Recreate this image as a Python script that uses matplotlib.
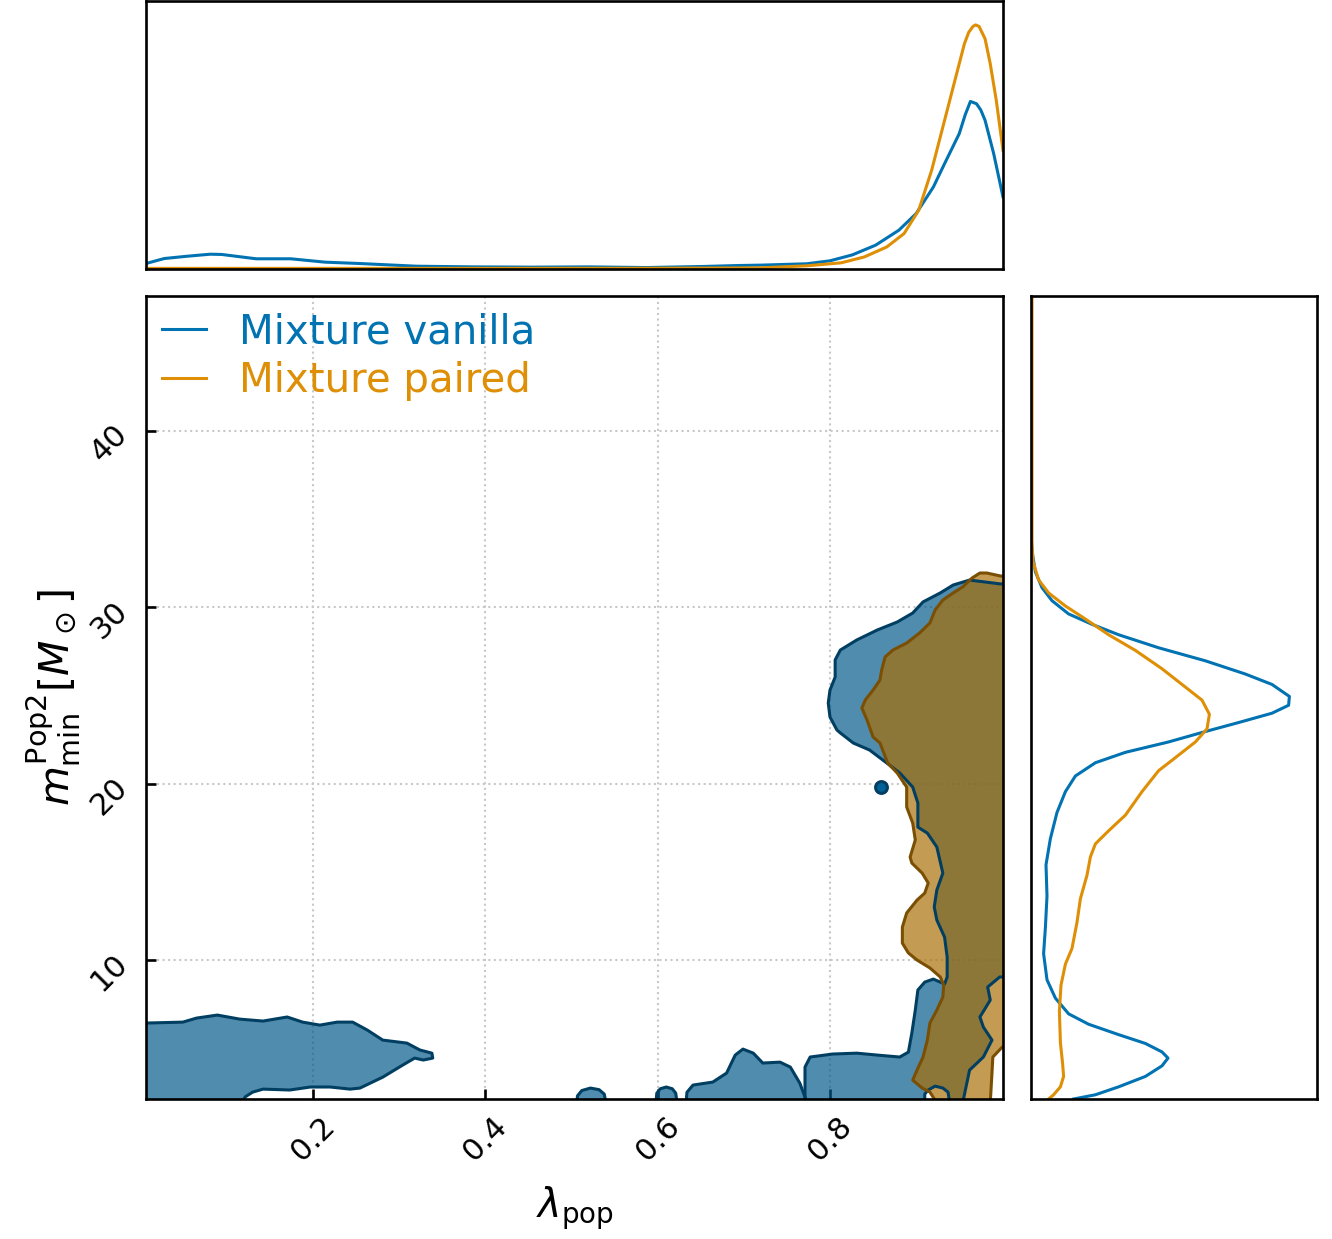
import matplotlib
matplotlib.use("Agg")
import matplotlib.pyplot as plt
import numpy as np

# ---------------------------------------------------------------
# Marginal posterior densities
# ---------------------------------------------------------------
lam_vanilla = [0.0062, 0.0275, 0.0541, 0.0808, 0.0941, 0.134, 0.174, 0.214, 0.254,
               0.320, 0.387, 0.454, 0.520, 0.587, 0.653, 0.693, 0.720, 0.773, 0.800,
               0.826, 0.853, 0.880, 0.900, 0.920, 0.933, 0.950, 0.957, 0.963, 0.970,
               0.975, 0.980, 0.990, 1.0008]
dens_lam_vanilla = [0.37, 0.74, 0.91, 1.06, 1.04, 0.72, 0.72, 0.47, 0.37,
                    0.17, 0.12, 0.10, 0.12, 0.07, 0.15, 0.22, 0.25, 0.35, 0.57,
                    1.01, 1.73, 2.84, 4.07, 6.04, 7.77, 9.99, 11.40, 12.38, 12.21,
                    11.75, 10.98, 8.51, 5.30]

lam_paired = [0.0062, 0.2, 0.4, 0.6, 0.7, 0.720, 0.773, 0.813, 0.840, 0.866, 0.886,
              0.903, 0.918, 0.933, 0.946, 0.956, 0.961, 0.966, 0.969, 0.973, 0.980,
              0.986, 0.993, 1.0008]
dens_lam_paired = [0.01, 0.01, 0.01, 0.02, 0.04, 0.05, 0.20, 0.42, 0.86, 1.60, 2.59,
                   4.32, 7.28, 10.98, 14.19, 16.65, 17.50, 17.94, 18.05, 17.94, 17.02,
                   15.17, 12.46, 8.76]

m_vanilla = [47.66, 33.79, 33.19, 32.01, 31.12, 30.38, 29.63, 29.04, 28.45, 27.71,
             26.97, 26.22, 25.63, 24.95, 24.45, 24.00, 23.47, 22.96, 22.37, 21.78,
             21.19, 20.44, 19.55, 18.37, 16.89, 15.40, 13.63, 11.85, 10.36, 8.88,
             7.84, 6.95, 6.36, 5.77, 5.27, 4.79, 4.44, 4.00, 3.40, 2.81, 2.36, 2.12]
dens_m_vanilla = [0.0, 0.0, 0.0005, 0.0022, 0.0055, 0.0105, 0.0188, 0.0305, 0.0438,
                  0.0638, 0.0872, 0.1072, 0.1205, 0.1292, 0.1288, 0.1205, 0.1038,
                  0.0872, 0.0688, 0.0472, 0.0322, 0.0222, 0.0172, 0.0130, 0.0097,
                  0.0075, 0.0080, 0.0072, 0.0063, 0.0080, 0.0122, 0.0188, 0.0288,
                  0.0438, 0.0572, 0.0655, 0.0685, 0.0655, 0.0572, 0.0438, 0.0322,
                  0.0213]

m_paired = [47.66, 33.79, 32.60, 31.56, 30.82, 30.08, 29.34, 28.45, 27.56, 26.52,
            25.48, 24.74, 23.94, 23.11, 22.37, 21.48, 20.74, 19.55, 18.22, 17.33,
            16.59, 15.85, 14.81, 13.48, 12.14, 10.66, 9.77, 8.58, 7.10, 5.32, 4.13,
            3.40, 2.81, 2.36, 2.12]
dens_m_paired = [0.0005, 0.0005, 0.0010, 0.0038, 0.0088, 0.0172, 0.0272, 0.0388,
                 0.0522, 0.0655, 0.0772, 0.0855, 0.0892, 0.0880, 0.0822, 0.0722,
                 0.0638, 0.0555, 0.0472, 0.0388, 0.0322, 0.0297, 0.0280, 0.0247,
                 0.0230, 0.0205, 0.0172, 0.0150, 0.0142, 0.0147, 0.0158, 0.0163,
                 0.0147, 0.0113, 0.0088]

# ---------------------------------------------------------------
# 2D credible-region outlines (lambda_pop, m_min^Pop2)
# ---------------------------------------------------------------
vanilla_main_lam = [1.01, 0.998, 0.962, 0.943, 0.928, 0.908, 0.896, 0.878, 0.855, 0.831,
                    0.812, 0.806, 0.806, 0.800, 0.798, 0.800, 0.808, 0.812, 0.827, 0.846,
                    0.866, 0.881, 0.896, 0.902, 0.902, 0.913, 0.924, 0.931, 0.924, 0.921,
                    0.924, 0.933, 0.936, 0.936, 0.933, 0.920, 0.910, 0.902, 0.899, 0.895,
                    0.891, 0.881, 0.855, 0.831, 0.803, 0.777, 0.771, 0.771, 0.910, 0.910,
                    0.914, 0.922, 0.931, 0.937, 0.939, 0.954, 0.962, 0.978, 0.988, 0.978,
                    0.974, 0.986, 0.983, 0.997, 1.01]
vanilla_main_m = [31.33, 31.33, 31.55, 31.27, 30.82, 30.31, 29.68, 29.17, 28.72, 28.15,
                  27.58, 27.02, 26.05, 25.31, 24.58, 23.78, 23.05, 22.88, 22.31, 21.91,
                  21.17, 20.61, 19.81, 18.91, 17.54, 17.20, 16.41, 14.93, 13.97, 13.01,
                  12.27, 11.30, 10.17, 9.04, 8.64, 8.92, 8.75, 8.30, 7.16, 5.86,
                  4.78, 4.50, 4.61, 4.72, 4.67, 4.50, 3.93, 1.90, 1.90, 2.40,
                  2.63, 2.85, 2.74, 2.51, 1.90, 1.90, 3.76, 4.50, 5.46, 6.20,
                  6.77, 7.73, 8.47, 9.04, 9.04]

vanilla_left_lam = [-0.01, 0.0085, 0.049, 0.065, 0.089, 0.115, 0.142, 0.170, 0.188,
                    0.208, 0.228, 0.246, 0.263, 0.281, 0.309, 0.324, 0.338, 0.339,
                    0.328, 0.318, 0.304, 0.281, 0.2545, 0.243, 0.220, 0.197, 0.173,
                    0.142, 0.130, 0.121, 0.119, -0.01]
vanilla_left_m = [6.43, 6.43, 6.48, 6.71, 6.88, 6.65, 6.54, 6.77, 6.48,
                  6.31, 6.48, 6.48, 6.03, 5.46, 5.29, 4.90, 4.72, 4.44,
                  4.33, 4.44, 4.04, 3.36, 2.74, 2.68, 2.80, 2.80, 2.63,
                  2.68, 2.51, 2.23, 1.90, 1.90]

vanilla_blob_a_lam = [0.506, 0.507, 0.512, 0.522, 0.532, 0.538, 0.540]
vanilla_blob_a_m = [1.90, 2.30, 2.60, 2.74, 2.65, 2.40, 1.90]

vanilla_blob_b_lam = [0.598, 0.599, 0.603, 0.610, 0.617, 0.621, 0.6225]
vanilla_blob_b_m = [1.90, 2.45, 2.70, 2.80, 2.70, 2.45, 1.90]

vanilla_blob_c_lam = [0.633, 0.634, 0.641, 0.664, 0.680, 0.690, 0.699, 0.711, 0.722,
                      0.742, 0.754, 0.765, 0.772, 0.772]
vanilla_blob_c_m = [1.90, 2.50, 2.91, 3.08, 3.59, 4.61, 4.95, 4.72, 4.16,
                    4.21, 3.93, 3.02, 2.10, 1.90]

vanilla_island_lam = [0.859]
vanilla_island_m = [19.81]

paired_main_lam = [1.01, 0.998, 0.982, 0.974, 0.965, 0.954, 0.943, 0.931, 0.922, 0.916,
                   0.904, 0.889, 0.873, 0.864, 0.860, 0.858, 0.850, 0.841, 0.837, 0.843,
                   0.850, 0.858, 0.867, 0.878, 0.889, 0.889, 0.896, 0.899, 0.893, 0.895,
                   0.907, 0.914, 0.910, 0.901, 0.889, 0.884, 0.884, 0.891, 0.901, 0.916,
                   0.928, 0.932, 0.931, 0.924, 0.916, 0.913, 0.908, 0.901, 0.896, 0.907,
                   0.916, 0.924, 0.986, 0.988, 0.989, 1.000, 1.01]
paired_main_m = [31.78, 31.78, 31.95, 31.95, 31.67, 31.16, 30.82, 30.42, 29.85, 29.12,
                 28.55, 27.98, 27.58, 27.19, 26.45, 25.88, 25.31, 24.75, 24.29, 23.61,
                 22.65, 22.31, 21.17, 20.61, 19.81, 18.68, 17.77, 16.81, 15.84, 15.50,
                 14.93, 14.37, 13.80, 13.40, 12.67, 11.87, 10.96, 10.40, 10.00, 9.55,
                 9.04, 8.58, 7.90, 7.16, 6.43, 5.46, 4.50, 3.76, 3.19, 2.74,
                 2.51, 1.90, 1.90, 3.59, 4.50, 5.07, 5.07]

# Axis ticks
lam_ticks = [0.2, 0.4, 0.6, 0.8]
m_ticks = [10, 20, 30, 40]
lam_range = (0.0062, 1.0008)
m_range = (2.12, 47.66)

labels = ["Mixture vanilla", "Mixture paired"]
line_colors = ["#0173b2", "#de8f05"]


def shade(color, factor):
    rgb = np.array(matplotlib.colors.to_rgb(color))
    return tuple(rgb * factor)


fill_alpha = 0.69
fill_colors = [shade(c, 0.766) for c in line_colors]
edge_colors = [shade(c, 0.55) for c in line_colors]

W, H = 1332, 1239
fig = plt.figure(figsize=(W / 100, H / 100), dpi=100)

ax = fig.add_axes([146 / W, 1 - 1099 / H, (1003 - 146) / W, (1099 - 296) / H])
ax_top = fig.add_axes([146 / W, 1 - 268.5 / H, (1003 - 146) / W, (268.5 - 1.3) / H])
ax_right = fig.add_axes([1031 / W, 1 - 1099 / H, (1317 - 1031) / W, (1099 - 296) / H])

spine_lw = 1.9
for a in (ax, ax_top, ax_right):
    for s in a.spines.values():
        s.set_linewidth(spine_lw)

# ---- joint panel ----
ax.grid(True, linestyle=":", color="#c8c8c8", linewidth=1.5)
ax.set_axisbelow(True)

vanilla_polys = [
    (vanilla_main_lam, vanilla_main_m),
    (vanilla_left_lam, vanilla_left_m),
    (vanilla_blob_a_lam, vanilla_blob_a_m),
    (vanilla_blob_b_lam, vanilla_blob_b_m),
    (vanilla_blob_c_lam, vanilla_blob_c_m),
]
paired_polys = [(paired_main_lam, paired_main_m)]

for xs, ys in vanilla_polys:
    ax.fill(xs, ys, color=fill_colors[0], alpha=fill_alpha, lw=0, zorder=1)
for xs, ys in paired_polys:
    ax.fill(xs, ys, color=fill_colors[1], alpha=fill_alpha, lw=0, zorder=1.1)

for xs, ys in vanilla_polys:
    ax.fill(xs, ys, facecolor="none", edgecolor=edge_colors[0], lw=2.2, zorder=2,
            joinstyle="round")
for xs, ys in paired_polys:
    ax.fill(xs, ys, facecolor="none", edgecolor=edge_colors[1], lw=2.2, zorder=2.1,
            joinstyle="round")

ax.plot(vanilla_island_lam, vanilla_island_m, "o", ms=8.5,
        mfc=shade(line_colors[0], 0.85), mec=edge_colors[0], mew=2.2, zorder=2)

ax.set_xlim(*lam_range)
ax.set_ylim(*m_range)
ax.set_xticks(lam_ticks)
ax.set_yticks(m_ticks)
ax.set_xticklabels([f"{t:g}" for t in lam_ticks], rotation=45)
ax.set_yticklabels([f"{t:g}" for t in m_ticks], rotation=45)
ax.tick_params(direction="in", length=7, width=1.9, labelsize=22, pad=9)
ax.set_xlabel(r"$\lambda_{\rm pop}$", fontsize=28.5, labelpad=13)
ax.set_ylabel(r"$m_{\rm min}^{\rm Pop2}[M_\odot]$", fontsize=29.5, labelpad=2)

# ---- marginal panels ----
h1, = ax_top.plot(lam_vanilla, dens_lam_vanilla, color=line_colors[0], lw=2.2,
                  label=labels[0])
h2, = ax_top.plot(lam_paired, dens_lam_paired, color=line_colors[1], lw=2.2,
                  label=labels[1])
ax_top.set_xlim(*lam_range)
ax_top.set_ylim(0, 19.8)
ax_top.set_xticks([])
ax_top.set_yticks([])

ax_right.plot(dens_m_vanilla, m_vanilla, color=line_colors[0], lw=2.2)
ax_right.plot(dens_m_paired, m_paired, color=line_colors[1], lw=2.2)
ax_right.set_ylim(*m_range)
ax_right.set_xlim(0, 0.143)
ax_right.set_xticks([])
ax_right.set_yticks([])

ax.legend(handles=[h1, h2], loc="upper left", frameon=False, fontsize=29,
          labelcolor="linecolor", handlelength=1.1, handletextpad=0.8,
          labelspacing=0.22, borderaxespad=0.15, borderpad=0.25)

fig.savefig("out.png", dpi=100)
